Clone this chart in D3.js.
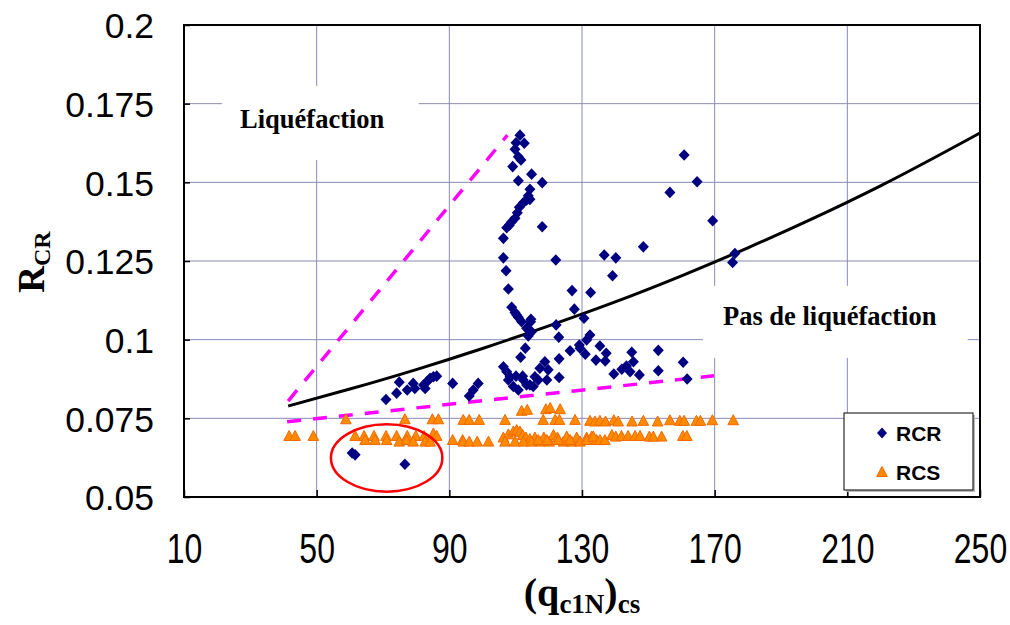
<!DOCTYPE html>
<html><head><meta charset="utf-8">
<script src="https://cdn.jsdelivr.net/npm/d3@7"></script>
<style>body{margin:0;background:#fff}svg{display:block}</style>
</head><body>
<svg id="chart" width="1010" height="625"></svg>
<script>
// ---- data ----
const xTicks = [10, 50, 90, 130, 170, 210, 250];
const yTicks = [0.05, 0.075, 0.1, 0.125, 0.15, 0.175, 0.2];

const rcrQ = [74.9,74.1,70.9,77.3,79.1,79.6,82.2,83.2,84.2,85.2,86.2,82.7,91.0,96.0,97.2,98.7,60.7,61.6,76.6,
 111.3,110.1,112.6,109.8,110.8,111.6,109.1,114.8,110.8,118.0,114.3,113.8,113.3,114.3,112.3,111.1,110.5,109.8,108.8,108.1,107.3,118.0,106.3,106.3,107.1,122.1,107.8,136.7,140.2,139.2,127.0,132.6,108.8,127.7,109.8,110.8,114.6,130.6,
 110.3,111.8,114.5,113.3,114.8,113.8,122.2,123.0,132.4,131.4,129.2,129.4,135.4,131.0,137.3,126.4,112.9,111.5,123.1,134.2,137.0,145.0,145.5,153.0,153.0,143.4,142.0,144.5,139.6,147.3,
 106.3,107.3,107.8,109.3,110.8,112.3,113.3,114.3,115.8,117.3,118.8,119.8,119.4,123.1,116.8,115.3,112.1,110.1,108.3,
 160.5,161.7,160.8,164.7,156.5,169.4,148.5,176.1,175.4];
const rcrV = [0.0865,0.0830,0.0810,0.0840,0.0861,0.0845,0.0856,0.0866,0.0877,0.0882,0.0884,0.0845,0.0861,0.0821,0.0840,0.0861,0.0640,0.0634,0.0604,
 0.1650,0.1626,0.1624,0.1605,0.1581,0.1571,0.1550,0.1526,0.1505,0.1499,0.1478,0.1457,0.1444,0.1446,0.1435,0.1421,0.1403,0.1386,0.1375,0.1364,0.1356,0.1359,0.1322,0.1260,0.1219,0.1253,0.1161,0.1269,0.1260,0.1203,0.1156,0.1150,0.1103,0.1097,0.1086,0.1071,0.1065,0.1068,
 0.1078,0.1057,0.1057,0.1036,0.1025,0.1012,0.1047,0.1008,0.1015,0.0999,0.0983,0.0973,0.0980,0.0954,0.0957,0.0965,0.0973,0.0944,0.0939,0.0935,0.0932,0.0960,0.0930,0.0966,0.0901,0.0916,0.0906,0.0898,0.0891,0.0888,
 0.0914,0.0898,0.0872,0.0851,0.0840,0.0872,0.0856,0.0856,0.0882,0.0909,0.0930,0.0904,0.0872,0.0880,0.0872,0.0851,0.0884,0.0884,0.0882,
 0.0928,0.0875,0.1587,0.1502,0.1468,0.1378,0.1295,0.1274,0.1245];

const rcsQ = [58.8,76.6,84.9,86.7,94.2,96.0,99.0,106.8,118.3,121.9,123.2,127.9,132.4,133.9,135.4,137.1,139.6,140.9,145.1,148.5,152.8,156.5,159.5,160.8,164.5,165.7,169.3,175.6,
 111.8,113.5,119.1,120.4,123.4,
 41.7,43.5,49.0,61.6,64.3,67.3,70.9,74.1,77.3,79.9,82.4,85.2,86.2,91.0,94.0,64.6,67.6,71.1,74.9,77.1,79.1,82.7,84.2,
 94.2,96.0,98.4,101.8,106.3,107.8,109.3,110.3,111.3,112.1,113.1,114.3,115.8,117.3,118.5,120.1,121.4,122.6,124.4,125.4,126.9,128.4,129.4,131.4,132.9,134.4,
 106.8,109.8,112.3,114.8,116.8,119.4,122.9,126.4,131.4,
 133.4,135.4,136.9,139.0,140.2,141.9,143.9,146.0,147.5,150.3,151.5,154.0,160.4,161.6];
const rcsV = [0.0747,0.0747,0.0747,0.0747,0.0745,0.0745,0.0745,0.0745,0.0745,0.0745,0.0745,0.0745,0.0742,0.0740,0.0742,0.0740,0.0744,0.0740,0.0740,0.0742,0.0740,0.0744,0.0742,0.0742,0.0742,0.0742,0.0744,0.0744,
 0.0774,0.0777,0.0779,0.0783,0.0779,
 0.0694,0.0694,0.0694,0.0694,0.0694,0.0694,0.0694,0.0694,0.0694,0.0694,0.0694,0.0702,0.0694,0.0681,0.0681,0.0681,0.0681,0.0681,0.0676,0.0681,0.0676,0.0676,0.0676,
 0.0676,0.0676,0.0676,0.0676,0.0689,0.0699,0.0708,0.0713,0.0708,0.0697,0.0689,0.0684,0.0689,0.0676,0.0689,0.0676,0.0697,0.0689,0.0676,0.0692,0.0676,0.0689,0.0676,0.0689,0.0692,0.0681,
 0.0676,0.0676,0.0676,0.0676,0.0681,0.0681,0.0681,0.0681,0.0681,
 0.0692,0.0681,0.0681,0.0697,0.0692,0.0694,0.0694,0.0694,0.0694,0.0692,0.0692,0.0692,0.0694,0.0694];

// boundary curve (black)
const curveQ = [41.4, 60, 80, 100, 120, 140, 160, 180, 200, 220, 250];
const curveV = [0.0789, 0.0843, 0.0905, 0.0972, 0.1044, 0.1120, 0.1203, 0.1292, 0.1387, 0.1489, 0.1657];
// magenta dashed envelope lines
const upperQ = [41.4, 107.5];
const upperV = [0.0805, 0.1650];
const lowerQ = [41.1, 169.8];
const lowerV = [0.0739, 0.0885];
// red ellipse annotation (centre, radii in data units)
const ellipseQ = [71.1, 16.8];
const ellipseV = [0.0624, 0.0107];

const labelTexts = ["Liquéfaction", "Pas de liquéfaction"];
const labelQ = [26.9, 172.5];
const labelV = [0.1673, 0.1047];
const seriesNames = ["RCR", "RCS"];

// ---- drawing ----
const svg = d3.select("#chart");
const x = d3.scaleLinear().domain([10, 250]).range([184, 980]);
const y = d3.scaleLinear().domain([0.05, 0.2]).range([497, 25]);
const grid = "#8a8ab8";

// gridlines
svg.append("g").selectAll("line").data(yTicks.slice(1, -1)).join("line")
  .attr("x1", x(10)).attr("x2", x(250)).attr("y1", d => y(d)).attr("y2", d => y(d))
  .attr("stroke", grid).attr("stroke-width", 1);
svg.append("g").selectAll("line").data(xTicks.slice(1, -1)).join("line")
  .attr("y1", y(0.05)).attr("y2", y(0.2)).attr("x1", d => x(d)).attr("x2", d => x(d))
  .attr("stroke", grid).attr("stroke-width", 1);

// axes with inner ticks
const yAxis = d3.axisLeft(y).tickValues(yTicks).tickSize(-6).tickPadding(30).tickFormat(d => String(d));
const xAxis = d3.axisBottom(x).tickValues(xTicks).tickSize(-7).tickPadding(0).tickFormat(d3.format("d"));
const gy = svg.append("g").attr("transform", `translate(${x(10)},0)`).call(yAxis);
const gx = svg.append("g").attr("transform", `translate(0,${y(0.05)})`).call(xAxis);
[gx, gy].forEach(g => {
  g.select(".domain").remove();
  g.selectAll(".tick line").attr("stroke", "#000").attr("stroke-width", 1.5);
  g.selectAll("text").attr("fill", "#000").attr("font-family", "'Liberation Sans', Arial, sans-serif");
});
gy.selectAll("text").attr("font-size", 35.5).attr("dy", "0.36em");
gx.selectAll("text").attr("font-size", 32).attr("y", 0).attr("dy", "0.36em")
  .attr("transform", "translate(0,51) scale(1,1.3)");

// frame
svg.append("rect").attr("x", x(10)).attr("y", y(0.2)).attr("width", x(250) - x(10)).attr("height", y(0.05) - y(0.2))
  .attr("fill", "none").attr("stroke", "#000").attr("stroke-width", 2);

// region labels with white backgrounds
const padL = [18, 20], padR = [34, 31], padT = [18, 15], padB = [26, 27];
labelTexts.forEach((t, i) => {
  const g = svg.append("g");
  const rect = g.append("rect").attr("fill", "#fff");
  const txt = g.append("text").attr("x", x(labelQ[i])).attr("y", y(labelV[i])).text(t)
    .attr("font-family", "'Liberation Serif', 'Times New Roman', serif").attr("font-weight", "bold")
    .attr("font-size", 26.5).attr("fill", "#000");
  const b = txt.node().getBBox();
  rect.attr("x", b.x - padL[i]).attr("y", b.y - padT[i]).attr("width", b.width + padL[i] + padR[i]).attr("height", b.height + padT[i] + padB[i]);
});

// envelope lines
const line = d3.line().x(d => x(d[0])).y(d => y(d[1]));
svg.append("path").datum(d3.zip(upperQ, upperV)).attr("d", line)
  .attr("fill", "none").attr("stroke", "#ff00ff").attr("stroke-width", 3.5).attr("stroke-dasharray", "14,12");
svg.append("path").datum(d3.zip(lowerQ, lowerV)).attr("d", line)
  .attr("fill", "none").attr("stroke", "#ff00ff").attr("stroke-width", 3.5).attr("stroke-dasharray", "14,12");

// black boundary curve
svg.append("path").datum(d3.zip(curveQ, curveV)).attr("d", line.curve(d3.curveMonotoneX))
  .attr("fill", "none").attr("stroke", "#000").attr("stroke-width", 3);

// markers
const diamond = "M0,-5.8L5.5,0L0,5.8L-5.5,0Z";
const triangle = "M0,-5.5L5.3,4.5L-5.3,4.5Z";
svg.append("g").selectAll("path").data(d3.zip(rcsQ, rcsV)).join("path")
  .attr("d", triangle).attr("transform", d => `translate(${x(d[0])},${y(d[1])})`)
  .attr("fill", "#ff8a00").attr("stroke", "#f26a00").attr("stroke-width", 1);
svg.append("g").selectAll("path").data(d3.zip(rcrQ, rcrV)).join("path")
  .attr("d", diamond).attr("transform", d => `translate(${x(d[0])},${y(d[1])})`)
  .attr("fill", "#000080");

// red ellipse
svg.append("ellipse")
  .attr("cx", x(ellipseQ[0])).attr("cy", y(ellipseV[0]))
  .attr("rx", x(ellipseQ[0] + ellipseQ[1]) - x(ellipseQ[0]))
  .attr("ry", y(ellipseV[0] - ellipseV[1]) - y(ellipseV[0]))
  .attr("fill", "none").attr("stroke", "#ff0000").attr("stroke-width", 2.5);

// legend
const lg = svg.append("g").attr("transform", "translate(844,413)");
lg.append("rect").attr("x", 2).attr("y", 2).attr("width", 129).attr("height", 77).attr("fill", "#bbb");
lg.append("rect").attr("width", 129).attr("height", 77).attr("fill", "#fff").attr("stroke", "#000").attr("stroke-width", 1);
seriesNames.forEach((n, i) => {
  const cy = 20 + i * 39;
  lg.append("path").attr("d", i === 0 ? "M0,-5.5L5,0L0,5.5L-5,0Z" : triangle).attr("transform", `translate(38,${cy})`)
    .attr("fill", i === 0 ? "#000080" : "#ff8a00").attr("stroke", i === 0 ? "none" : "#f26a00");
  lg.append("text").attr("x", 52).attr("y", cy + 7.5).text(n)
    .attr("font-family", "'Liberation Sans', Arial, sans-serif").attr("font-weight", "bold").attr("font-size", 21).attr("fill", "#000");
});

// axis titles
const yt = svg.append("text").attr("transform", "translate(44,262) rotate(-90)").attr("text-anchor", "middle")
  .attr("font-family", "'Liberation Serif', 'Times New Roman', serif").attr("font-weight", "bold").attr("fill", "#000");
yt.append("tspan").attr("font-size", 37).text("R");
yt.append("tspan").attr("font-size", 24).attr("dy", 6).text("CR");

const xt = svg.append("text").attr("x", 582).attr("y", 606).attr("text-anchor", "middle")
  .attr("font-family", "'Liberation Serif', 'Times New Roman', serif").attr("font-weight", "bold").attr("fill", "#000");
xt.append("tspan").attr("font-size", 40).text("(q");
xt.append("tspan").attr("font-size", 27).attr("dy", 7).text("c1N");
xt.append("tspan").attr("font-size", 40).attr("dy", -7).text(")");
xt.append("tspan").attr("font-size", 27).attr("dy", 7).text("cs");
</script>
</body></html>
